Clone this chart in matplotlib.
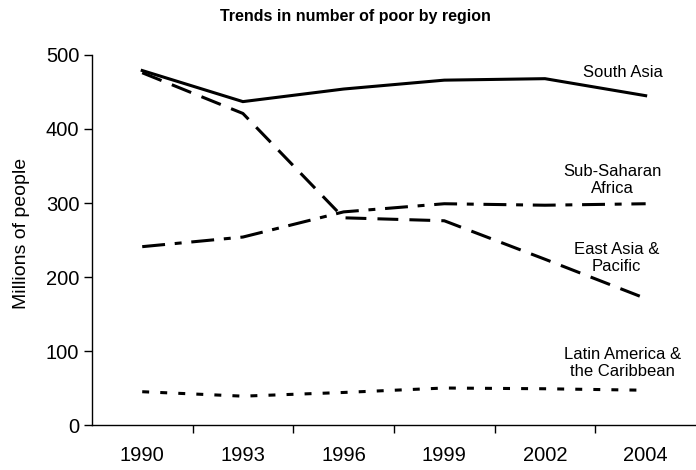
import matplotlib.pyplot as plt

plt.rcParams['font.family'] = ['Liberation Sans', 'DejaVu Sans']
plt.rcParams['lines.scale_dashes'] = False

# Данные
years = ['1990', '1993', '1996', '1999', '2002', '2004']
south_asia = [479, 437, 454, 466, 468, 445]
east_asia = [476, 421, 280, 276, 224, 171]
sub_saharan = [241, 254, 288, 299, 297, 299]
latin_america = [45, 39, 44, 50, 49, 47]

x = list(range(len(years)))

fig = plt.figure(figsize=(6.96, 4.70), dpi=100)
ax = fig.add_axes([0.132, 0.0957, 0.868, 0.7873])

lw = 2.2
ax.plot(x, south_asia, color='black', lw=lw, solid_joinstyle='miter')
ax.plot(x, east_asia, color='black', lw=lw, dashes=(15, 8))
ax.plot(x, sub_saharan, color='black', lw=lw, dashes=(16.5, 7, 5, 7))
ax.plot(x, latin_america, color='black', lw=lw, dashes=(5, 8))

# Подписи рядов
ax.text(4.77, 477, 'South Asia', ha='center', va='center', fontsize=12)
ax.text(4.67, 331, 'Sub-Saharan\nAfrica', ha='center', va='center', fontsize=12, linespacing=1.15)
ax.text(4.71, 226, 'East Asia &\nPacific', ha='center', va='center', fontsize=12, linespacing=1.15)
ax.text(4.77, 84, 'Latin America &\nthe Caribbean', ha='center', va='center', fontsize=12, linespacing=1.15)

ax.set_xlim(-0.5, len(years) - 0.5)
ax.set_ylim(0, 500)
ax.set_yticks([0, 100, 200, 300, 400, 500])
ax.tick_params(axis='y', labelsize=14.5, length=6, width=1, pad=3)

# Деления оси X между категориями, подписи по центру
ax.set_xticks([i + 0.5 for i in range(len(years) - 1)])
ax.set_xticklabels([])
ax.set_xticks(x, minor=True)
ax.set_xticklabels(years, minor=True)
ax.tick_params(axis='x', which='major', length=6, width=1, direction='out')
ax.tick_params(axis='x', which='minor', length=0, labelsize=14.5, pad=15)

ax.spines['top'].set_visible(False)
ax.spines['right'].set_visible(False)
ax.spines['left'].set_linewidth(1)
ax.spines['bottom'].set_linewidth(1)

ax.set_ylabel('Millions of people', fontsize=14)
ax.yaxis.set_label_coords(-0.102, 0.519)

fig.text(0.51, 0.965, 'Trends in number of poor by region', ha='center', va='center',
         fontsize=11.5, fontweight='bold')

plt.savefig('out.png', dpi=100)
